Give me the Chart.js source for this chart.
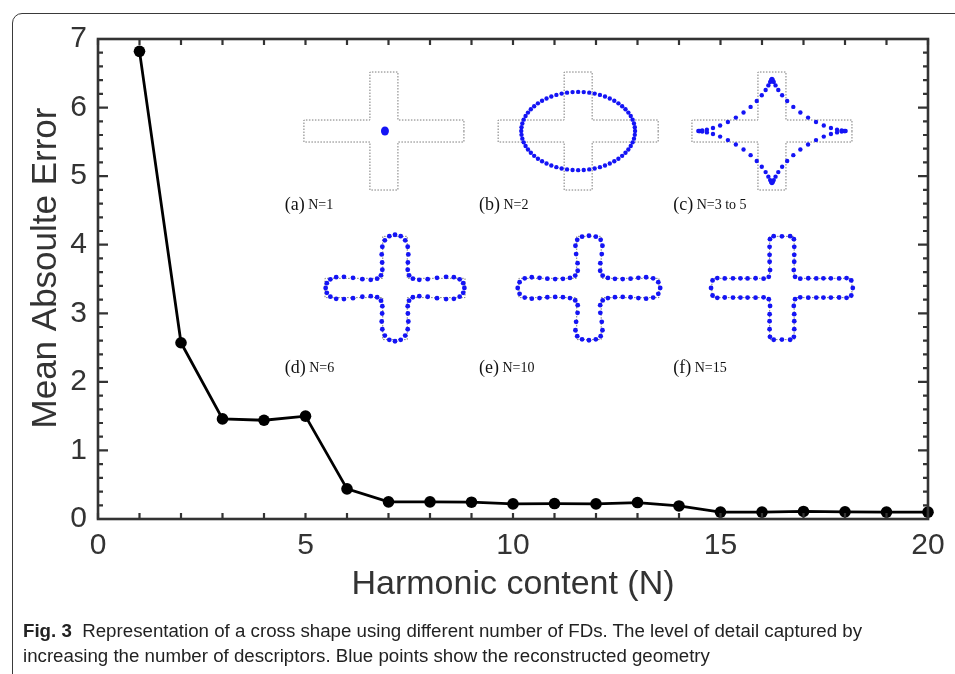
<!DOCTYPE html>
<html><head><meta charset="utf-8">
<script src="https://cdn.jsdelivr.net/npm/chart.js@4.4.1/dist/chart.umd.min.js"></script>
<style>
html,body{margin:0;padding:0;background:#fff;width:955px;height:674px;overflow:hidden;}
#frame{position:absolute;left:12px;top:13px;width:990px;height:720px;border:1.5px solid #3a3a3a;border-radius:10px;box-sizing:border-box;}
#wrap{position:absolute;left:0;top:0;width:955px;height:674px;}
#cap{position:absolute;left:23px;top:619px;font-family:"Liberation Sans",Arial,sans-serif;font-size:17.5px;line-height:25px;color:#222;white-space:nowrap;transform-origin:0 0;}
#cap b{font-weight:bold;}
</style></head><body>
<div id="frame"></div>
<div id="wrap"><canvas id="c" width="955" height="674"></canvas></div>
<div id="cap"><div id="l1"><b>Fig. 3</b>&nbsp; Representation of a cross shape using different number of FDs. The level of detail captured by</div><div>increasing the number of descriptors. Blue points show the reconstructed geometry</div></div>
<script>
// ---- data ----
const harmonics = [1,2,3,4,5,6,7,8,9,10,11,12,13,14,15,16,17,18,19,20];
const meanAbsError = [6.82,2.57,1.46,1.44,1.50,0.44,0.25,0.25,0.245,0.22,0.225,0.22,0.24,0.19,0.10,0.10,0.11,0.105,0.10,0.10];
const xTickLabels = [0,5,10,15,20];
const yTickLabels = [0,1,2,3,4,5,6,7];
const xTitle = 'Harmonic content (N)';
const yTitle = 'Mean Absoulte Error';
const insetLabels = ['(a)','(b)','(c)','(d)','(e)','(f)'];
const insetNames = ['N=1','N=2','N=3 to 5','N=6','N=10','N=15'];
const insetHarmonics = [0,1,3,7,11,19];

// fit caption width
(function(){
  const cap=document.getElementById('cap');
  const l1=document.getElementById('l1');
  const w=l1.getBoundingClientRect().width;
  cap.style.transform='scaleX('+(839/w)+')';
})();

// inset layout (data-space centers, pixel sizes)
const insetLayout = [
  {cx:6.89, cy:5.658, s:1, lx:4.5, ly:4.594},
  {cx:11.57,cy:5.658, s:1, lx:9.18,ly:4.594},
  {cx:16.24,cy:5.658, s:1, lx:13.86,ly:4.594},
  {cx:7.157,cy:3.369, s:0.875, lx:4.5, ly:2.21},
  {cx:11.83,cy:3.369, s:0.875, lx:9.18,ly:2.21},
  {cx:16.48,cy:3.369, s:0.875, lx:13.86,ly:2.21}
];

function crossPoly(hw,hh,va,ha){
  return [[hw,0],[hw,ha],[va,ha],[va,hh],[-va,hh],[-va,ha],[-hw,ha],[-hw,-ha],[-va,-ha],[-va,-hh],[va,-hh],[va,-ha],[hw,-ha],[hw,0]];
}
function sampleOutline(poly,M){
  const seg=[];let tot=0;
  for(let i=0;i<poly.length-1;i++){const dx=poly[i+1][0]-poly[i][0],dy=poly[i+1][1]-poly[i][1];const l=Math.hypot(dx,dy);seg.push(l);tot+=l;}
  const out=[];
  for(let m=0;m<M;m++){
    let d=tot*m/M,i=0;
    while(d>seg[i]){d-=seg[i];i++;}
    const f=seg[i]?d/seg[i]:0;
    out.push([poly[i][0]+(poly[i+1][0]-poly[i][0])*f,poly[i][1]+(poly[i+1][1]-poly[i][1])*f]);
  }
  return out;
}
function reconstruct(pts,K,P){
  const M=pts.length;const coef=[];
  for(let k=-K;k<=K;k++){
    let re=0,im=0;
    for(let m=0;m<M;m++){const a=-2*Math.PI*k*m/M;const c=Math.cos(a),s=Math.sin(a);
      re+=pts[m][0]*c-pts[m][1]*s; im+=pts[m][0]*s+pts[m][1]*c;}
    coef.push([k,re/M,im/M]);
  }
  const out=[];
  for(let j=0;j<P;j++){
    let x=0,y=0;
    for(const [k,re,im] of coef){const a=2*Math.PI*k*j/P;const c=Math.cos(a),s=Math.sin(a);x+=re*c-im*s;y+=re*s+im*c;}
    out.push([x,y]);
  }
  return out;
}

const decor = {
  id:'decor',
  afterDatasetsDraw(chart){
    const ctx=chart.ctx, a=chart.chartArea, xs=chart.scales.x, ys=chart.scales.y;
    ctx.save();
    // box
    ctx.strokeStyle='#333';ctx.lineWidth=2.6;
    ctx.strokeRect(a.left,a.top,a.right-a.left,a.bottom-a.top);
    // ticks
    ctx.lineWidth=2.2;
    ctx.beginPath();
    xs.ticks.forEach(t=>{const px=xs.getPixelForValue(t.value);
      ctx.moveTo(px,a.bottom);ctx.lineTo(px,a.bottom-6);
      ctx.moveTo(px,a.top);ctx.lineTo(px,a.top+6);});
    ys.ticks.forEach(t=>{const py=ys.getPixelForValue(t.value);
      const major=Math.abs(t.value-Math.round(t.value))<1e-6;const L=major?10:5;
      ctx.moveTo(a.left,py);ctx.lineTo(a.left+L,py);
      ctx.moveTo(a.right,py);ctx.lineTo(a.right-L,py);});
    ctx.stroke();
    // titles
    ctx.fillStyle='#333';
    ctx.font='34px "Liberation Sans", Arial, sans-serif';
    ctx.textAlign='center';ctx.textBaseline='alphabetic';
    ctx.fillText(xTitle,(a.left+a.right)/2,594);
    ctx.save();
    ctx.translate(56,(a.top+a.bottom)/2-11);
    ctx.rotate(-Math.PI/2);
    ctx.font='35px "Liberation Sans", Arial, sans-serif';
    ctx.fillText(yTitle,0,0);
    ctx.restore();
    // insets
    insetLayout.forEach((L,i)=>{
      const cx=xs.getPixelForValue(L.cx), cy=ys.getPixelForValue(L.cy), s=L.s;
      const poly=crossPoly(80*s,59*s,14*s,11*s);
      ctx.save();
      ctx.strokeStyle='#7a7a7a';ctx.lineWidth=1;ctx.setLineDash([1.5,1.5]);
      ctx.beginPath();
      poly.forEach((p,j)=>{const X=cx+p[0],Y=cy+p[1];j?ctx.lineTo(X,Y):ctx.moveTo(X,Y);});
      ctx.closePath();ctx.stroke();
      ctx.restore();
      ctx.fillStyle='#1414f5';
      const K=insetHarmonics[i];
      if(K===0){ctx.beginPath();ctx.ellipse(cx+1,cy,4,4.6,0,0,2*Math.PI);ctx.fill();}
      else{
        const pts=reconstruct(sampleOutline(poly,400),K,64);
        const r=i>=3?2.4:2.2;
        pts.forEach(p=>{ctx.beginPath();ctx.arc(cx+p[0],cy+p[1],r,0,2*Math.PI);ctx.fill();});
      }
      // label
      const lx=xs.getPixelForValue(L.lx), ly=ys.getPixelForValue(L.ly);
      ctx.fillStyle='#111';ctx.textAlign='left';ctx.textBaseline='alphabetic';
      ctx.font='18px "Liberation Serif", "Times New Roman", serif';
      ctx.fillText(insetLabels[i],lx,ly+6);
      const w=ctx.measureText(insetLabels[i]+' ').width;
      ctx.font='14px "Liberation Serif", "Times New Roman", serif';
      ctx.fillText(insetNames[i],lx+w-1,ly+5);
    });
    ctx.restore();
  }
};

new Chart(document.getElementById('c'),{
  type:'line',
  data:{datasets:[{
    data:harmonics.map((n,i)=>({x:n,y:meanAbsError[i]})),
    borderColor:'#000',borderWidth:2.8,
    pointRadius:5.8,pointHoverRadius:5.8,pointBackgroundColor:'#000',pointBorderWidth:0,
    tension:0,clip:false
  }]},
  options:{
    responsive:false,animation:false,
    layout:{padding:{left:0,top:39,right:27,bottom:95}},
    plugins:{legend:{display:false},tooltip:{enabled:false}},
    scales:{
      x:{type:'linear',min:0,max:20,
        grid:{display:false,drawTicks:false},border:{display:false},
        ticks:{stepSize:1,autoSkip:false,maxRotation:0,padding:9,color:'#333',
          font:{size:30,family:'"Liberation Sans", Arial, sans-serif'},
          callback:v=>xTickLabels.includes(v)?String(v):''},
        afterFit:s=>{s.height=60;}},
      y:{type:'linear',min:0,max:7,
        grid:{display:false,drawTicks:false},border:{display:false},
        ticks:{stepSize:0.2,autoSkip:false,padding:11,color:'#333',
          font:{size:30,family:'"Liberation Sans", Arial, sans-serif'},
          callback:v=>{const r=Math.round(v);return (Math.abs(v-r)<1e-6&&yTickLabels.includes(r))?String(r):'';}},
        afterFit:s=>{s.width=98;}}
    }
  },
  plugins:[decor]
});
</script>
</body></html>
